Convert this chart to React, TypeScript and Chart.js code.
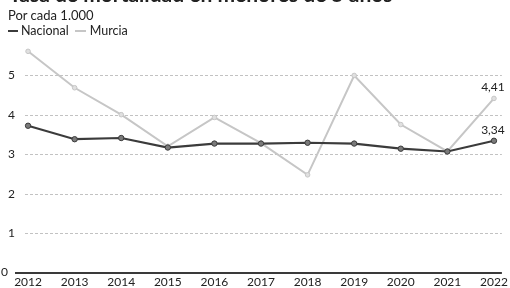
import React, { useEffect, useRef } from "react";
import { Chart, registerables } from "chart.js";

Chart.register(...registerables);

const years = [2012, 2013, 2014, 2015, 2016, 2017, 2018, 2019, 2020, 2021, 2022];
const nacional = [3.72, 3.38, 3.41, 3.17, 3.27, 3.27, 3.29, 3.27, 3.14, 3.07, 3.34];
const murcia = [5.6, 4.68, 4.0, 3.2, 3.93, 3.28, 2.48, 4.99, 3.75, 3.07, 4.41];
const yTicks = [0, 1, 2, 3, 4, 5];
const titleText = "Tasa de mortalidad en menores de 5 años";
const subtitleText = "Por cada 1.000";
const lastLabels = ["3,34", "4,41"];

const FONT = "Lato, 'Open Sans', sans-serif";
const DARK = "#3b3b3b";
const LIGHT = "#c6c6c6";

const endLabels = {
  id: "endLabels",
  afterDatasetsDraw(chart: any) {
    const ctx = chart.ctx;
    ctx.save();
    ctx.font = `12px ${FONT}`;
    ctx.fillStyle = "#222";
    ctx.textAlign = "center";
    ctx.textBaseline = "bottom";
    chart.data.datasets.forEach((ds: any, i: number) => {
      const meta = chart.getDatasetMeta(i);
      const pt = meta.data[meta.data.length - 1];
      if (pt) ctx.fillText(lastLabels[i], pt.x - 1, pt.y - 5);
    });
    const area = chart.chartArea;
    ctx.fillStyle = "#3a3a3a";
    ctx.fillRect(area.left, Math.round(area.bottom) - 1, area.right - area.left, 2);
    ctx.restore();
  },
};

const customGrid = {
  id: "customGrid",
  beforeDatasetsDraw(chart: any) {
    const ctx = chart.ctx;
    const y = chart.scales.y;
    const area = chart.chartArea;
    ctx.save();
    ctx.font = `12px ${FONT}`;
    ctx.fillStyle = "#222";
    ctx.textBaseline = "middle";
    yTicks.forEach((v) => {
      const py = Math.round(y.getPixelForValue(v)) + 0.5;
      if (v === 0) {
        ctx.textAlign = "left";
        ctx.fillText(String(v), 1, py - 1);
      } else {
        ctx.setLineDash([3, 2]);
        ctx.strokeStyle = "#c2c2c2";
        ctx.lineWidth = 1;
        ctx.beginPath();
        ctx.moveTo(area.left + 10, py);
        ctx.lineTo(area.right, py);
        ctx.stroke();
        ctx.textAlign = "right";
        ctx.fillText(String(v), 15, py);
      }
    });
    ctx.restore();
  },
};

export default function App() {
  const ref = useRef<HTMLCanvasElement>(null);
  useEffect(() => {
    if (!ref.current) return;
    const chart = new Chart(ref.current, {
      type: "line",
      data: {
        datasets: [
          {
            label: "Nacional",
            data: years.map((y, i) => ({ x: y, y: nacional[i] })),
            borderColor: DARK,
            borderWidth: 2.2,
            pointRadius: 2.7,
            pointBackgroundColor: "#7a7a7a",
            pointBorderColor: DARK,
            pointBorderWidth: 1,
            order: 1,
          },
          {
            label: "Murcia",
            data: years.map((y, i) => ({ x: y, y: murcia[i] })),
            borderColor: LIGHT,
            borderWidth: 2,
            pointRadius: 2.3,
            pointBackgroundColor: "#e0e0e0",
            pointBorderColor: LIGHT,
            pointBorderWidth: 1,
            order: 2,
          },
        ],
      },
      options: {
        animation: false,
        responsive: false,
        maintainAspectRatio: false,
        layout: { padding: { top: 45, right: 7, left: 0, bottom: 0 } },
        plugins: { legend: { display: false }, title: { display: false }, tooltip: { enabled: false } },
        scales: {
          x: {
            type: "linear",
            min: 2011.72,
            max: 2022.17,
            afterBuildTicks: (s: any) => {
              s.ticks = years.map((v) => ({ value: v }));
            },
            afterFit: (s: any) => {
              s.height = 15;
            },
            grid: { display: false, drawTicks: false },
            border: { display: false },
            ticks: {
              autoSkip: false,
              maxRotation: 0,
              padding: 2,
              color: "#222",
              font: { family: FONT, size: 12 },
              callback: (v: any) => String(v),
            },
          },
          y: {
            min: 0,
            max: 5.76,
            afterBuildTicks: (s: any) => {
              s.ticks = yTicks.map((v) => ({ value: v }));
            },
            afterFit: (s: any) => {
              s.width = 15;
            },
            border: { display: false },
            grid: { display: false, drawTicks: false },
            ticks: { display: false },
          },
        },
      },
      plugins: [customGrid, endLabels],
    } as any);
    return () => chart.destroy();
  }, []);

  return (
    <div
      style={{
        position: "fixed",
        left: 0,
        top: 0,
        width: 510,
        height: 288,
        overflow: "hidden",
        background: "#fff",
        fontFamily: FONT,
        color: "#222",
      }}
    >
      <canvas ref={ref} width={510} height={288} style={{ position: "absolute", left: 0, top: 0 }} />
      <div
        style={{
          position: "absolute",
          left: 9,
          top: -17,
          fontSize: 21,
          lineHeight: "21px",
          fontWeight: 700,
          whiteSpace: "nowrap",
        }}
      >
        {titleText}
      </div>
      <div style={{ position: "absolute", left: 8, top: 8, fontSize: 13, lineHeight: "15px", whiteSpace: "nowrap" }}>
        {subtitleText}
      </div>
      <div
        style={{
          position: "absolute",
          left: 8,
          top: 24,
          fontSize: 12.5,
          lineHeight: "14px",
          whiteSpace: "nowrap",
          display: "flex",
          alignItems: "center",
        }}
      >
        <span style={{ display: "inline-block", width: 10, height: 2, background: DARK, marginRight: 3 }} />
        <span>Nacional</span>
        <span style={{ display: "inline-block", width: 11, height: 1.5, background: LIGHT, margin: "0 4px 0 6px" }} />
        <span>Murcia</span>
      </div>
    </div>
  );
}
